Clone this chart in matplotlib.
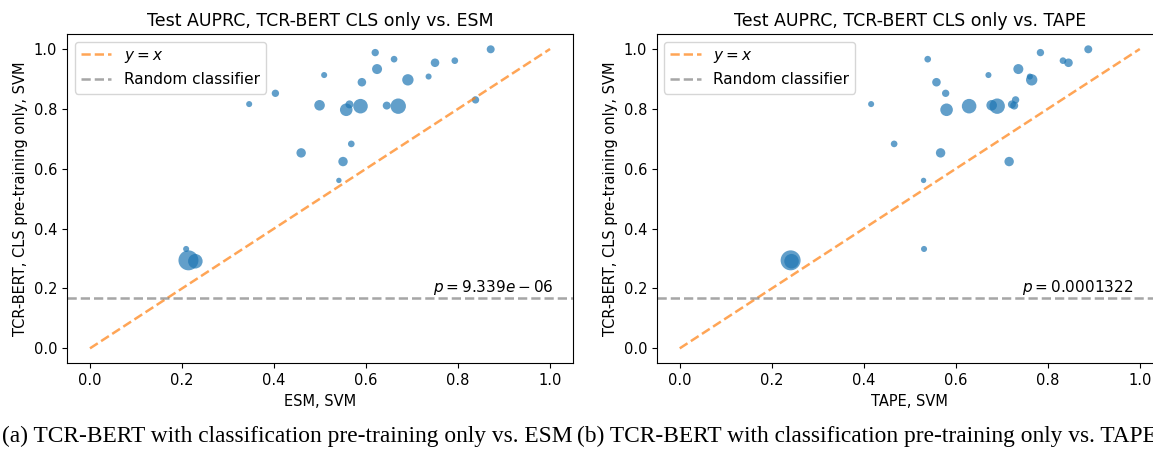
import numpy as np
import matplotlib
matplotlib.use("Agg")
from matplotlib import pyplot as plt

# per-task test AUPRC, TCR-BERT (CLS pre-training only) + SVM
tcrbert = [0.816, 0.852, 0.913, 0.812, 0.797, 0.815, 0.809, 0.988, 0.966,
           0.933, 0.889, 0.811, 0.809, 0.897, 0.908, 0.954, 0.961, 0.999,
           0.830, 0.653, 0.683, 0.624, 0.561, 0.332, 0.294, 0.291]
# same tasks, ESM embeddings + SVM
esm = [0.346, 0.403, 0.509, 0.499, 0.557, 0.564, 0.588, 0.620, 0.661,
       0.624, 0.591, 0.645, 0.670, 0.691, 0.736, 0.750, 0.793, 0.871,
       0.838, 0.459, 0.568, 0.550, 0.541, 0.209, 0.214, 0.229]
# same tasks, TAPE embeddings + SVM
tape = [0.416, 0.578, 0.671, 0.678, 0.580, 0.722, 0.629, 0.784, 0.539,
        0.736, 0.558, 0.727, 0.690, 0.765, 0.761, 0.845, 0.833, 0.888,
        0.730, 0.567, 0.466, 0.716, 0.530, 0.531, 0.241, 0.243]
# bubble area, scales with number of test examples per task
n_area = [19, 28, 19, 58, 82, 33, 110, 28, 23, 52, 38, 33, 123, 67, 19,
          38, 23, 33, 28, 46, 23, 46, 15, 19, 207, 110]

random_baseline = 1 / 6
pvals = [r"$p=9.339e-06$", r"$p=0.0001322$"]
others = ["ESM", "TAPE"]
captions = ["(a) TCR-BERT with classification pre-training only vs. ESM",
            "(b) TCR-BERT with classification pre-training only vs. TAPE"]


def panel(ax, xvals, name, ptext):
    ax.scatter(xvals, tcrbert, s=n_area, alpha=0.7, color="tab:blue",
               linewidths=0)
    ax.plot([0, 1], [0, 1], linestyle="--", color="tab:orange", alpha=0.7,
            lw=1.8, label="$y=x$")
    ax.axhline(random_baseline, linestyle="--", color="grey", alpha=0.7,
               lw=1.8, label="Random classifier")
    ax.text(0.745, random_baseline + 0.006, ptext, ha="left", va="bottom",
            fontsize=11)
    ax.set_xlim(-0.05, 1.05)
    ax.set_ylim(-0.05, 1.05)
    ax.set_xticks(np.arange(0, 1.01, 0.2))
    ax.set_yticks(np.arange(0, 1.01, 0.2))
    ax.set_title(f"Test AUPRC, TCR-BERT CLS only vs. {name}", fontsize=12.5)
    ax.set_xlabel(f"{name}, SVM", fontsize=10.5)
    ax.set_ylabel("TCR-BERT, CLS pre-training only, SVM", fontsize=10.5)
    ax.tick_params(labelsize=10.5)
    ax.legend(loc="upper left", fontsize=11)


def main():
    fig = plt.figure(figsize=(11.53, 4.55), dpi=100)
    ax1 = fig.add_axes([0.0581, 0.2015, 0.4389, 0.7237])
    ax2 = fig.add_axes([0.5696, 0.2015, 0.4389, 0.7237])
    panel(ax1, esm, others[0], pvals[0])
    panel(ax2, tape, others[1], pvals[1])

    fig.text(0.002, 0.04, captions[0], family="Liberation Serif",
             fontsize=16.8, ha="left", va="center")
    fig.text(0.5005, 0.04, captions[1], family="Liberation Serif",
             fontsize=16.8, ha="left", va="center")
    fig.savefig("out.png", dpi=100)


if __name__ == "__main__":
    main()
